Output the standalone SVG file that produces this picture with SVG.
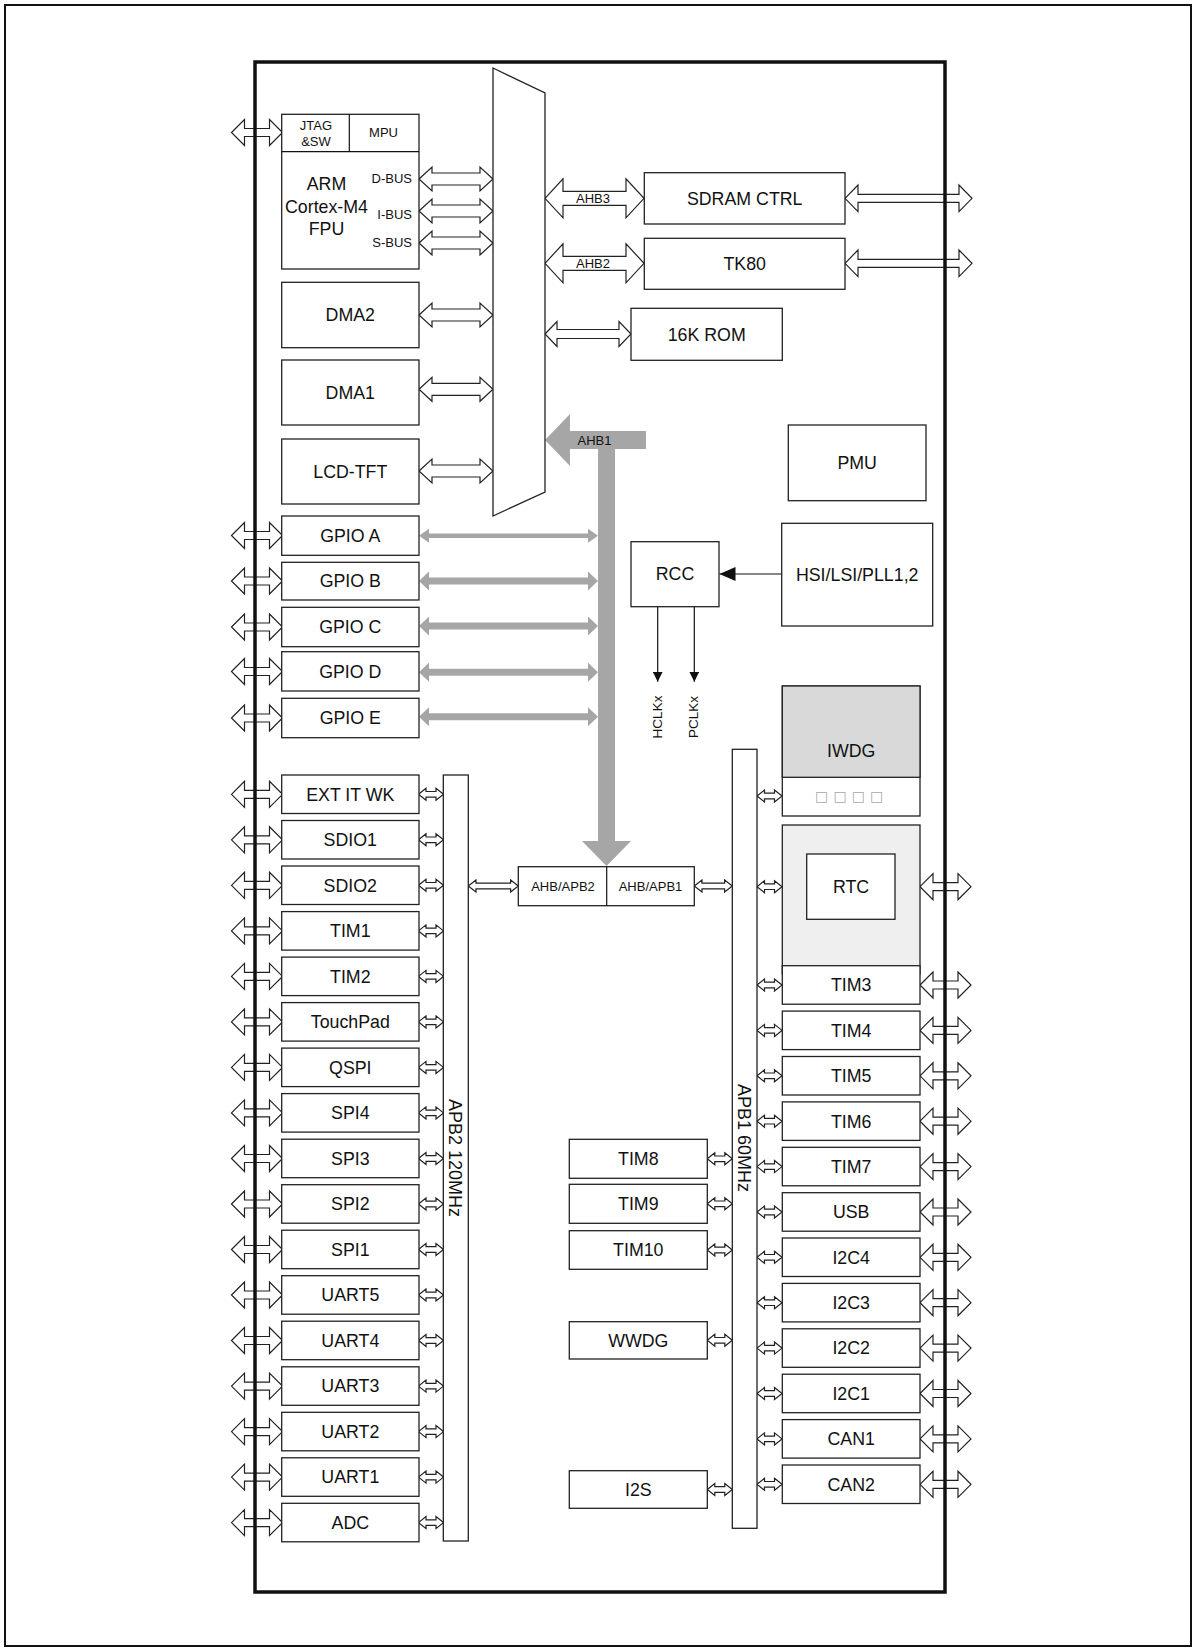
<svg xmlns="http://www.w3.org/2000/svg" xmlns:xlink="http://www.w3.org/1999/xlink" width="1196" height="1651" viewBox="0 0 1196 1651">
<style>
.box{fill:#fff;stroke:#222;stroke-width:1.3}
.lbl{font-family:"Liberation Sans",Arial,sans-serif;font-size:17.8px;text-anchor:middle;fill:#111}
.sml{font-size:13px}
.arr{fill:#fff;stroke:#222;stroke-width:1.2;stroke-linejoin:miter}
.gray{fill:#a6a6a6;stroke:none}
.thin{stroke:#111;stroke-width:1.2;fill:none}
</style>
<defs>
<path id="io" class="arr" d="M0,0 L13,-13 L13,-4 L38,-4 L38,-13 L51,0 L38,13 L38,4 L13,4 L13,13 Z"/>
<path id="sm" class="arr" d="M0,0 L7.5,-6 L7.5,-2.8 L17.5,-2.8 L17.5,-6 L25,0 L17.5,6 L17.5,2.8 L7.5,2.8 L7.5,6 Z"/>
<path id="bus" class="arr" d="M0,0 L13,-12 L13,-6 L61,-6 L61,-12 L74,0 L61,12 L61,6 L13,6 L13,12 Z"/>
<path id="gA" class="gray" d="M0,0 L10,-7 L10,-2.2 L169,-2.2 L169,-7 L179,0 L169,7 L169,2.2 L10,2.2 L10,7 Z"/>
<path id="gB" class="gray" d="M0,0 L10,-9.5 L10,-3.5 L169,-3.5 L169,-9.5 L179,0 L169,9.5 L169,3.5 L10,3.5 L10,9.5 Z"/>
<marker id="tri" viewBox="0 0 10 10" refX="10" refY="5" markerWidth="10" markerHeight="10" markerUnits="userSpaceOnUse" orient="auto">
<path d="M0,0 L10,5 L0,10 Z" fill="#111"/>
</marker>
<marker id="triL" viewBox="0 0 16 14" refX="16" refY="7" markerWidth="16" markerHeight="14" markerUnits="userSpaceOnUse" orient="auto">
<path d="M0,0 L16,7 L0,14 Z" fill="#111"/>
</marker>
</defs>
<rect x="5" y="5" width="1186" height="1641" fill="#fff" stroke="#111" stroke-width="2"/>

<g id="connectors">
<use href="#io" x="231.5" y="132.5"/>
<use href="#io" x="231.5" y="535.5"/>
<use href="#io" x="231.5" y="581"/>
<use href="#io" x="231.5" y="627"/>
<use href="#io" x="231.5" y="671.5"/>
<use href="#io" x="231.5" y="718"/>
<use href="#io" x="231.5" y="794.3"/>
<use href="#io" x="231.5" y="839.8"/>
<use href="#io" x="231.5" y="885.3"/>
<use href="#io" x="231.5" y="930.9"/>
<use href="#io" x="231.5" y="976.4"/>
<use href="#io" x="231.5" y="1021.9"/>
<use href="#io" x="231.5" y="1067.4"/>
<use href="#io" x="231.5" y="1112.9"/>
<use href="#io" x="231.5" y="1158.5"/>
<use href="#io" x="231.5" y="1204"/>
<use href="#io" x="231.5" y="1249.5"/>
<use href="#io" x="231.5" y="1295"/>
<use href="#io" x="231.5" y="1340.5"/>
<use href="#io" x="231.5" y="1386.1"/>
<use href="#io" x="231.5" y="1431.6"/>
<use href="#io" x="231.5" y="1477.1"/>
<use href="#io" x="231.5" y="1522.6"/>
<use href="#io" x="920" y="886.7"/>
<use href="#io" x="920" y="985"/>
<use href="#io" x="920" y="1030.4"/>
<use href="#io" x="920" y="1075.8"/>
<use href="#io" x="920" y="1121.2"/>
<use href="#io" x="920" y="1166.6"/>
<use href="#io" x="920" y="1212"/>
<use href="#io" x="920" y="1257.3"/>
<use href="#io" x="920" y="1302.7"/>
<use href="#io" x="920" y="1348.1"/>
<use href="#io" x="920" y="1393.5"/>
<use href="#io" x="920" y="1438.9"/>
<use href="#io" x="920" y="1484.3"/>
<path class="arr" d="M845,198.3 L858,185 L858,194.3 L959,194.3 L959,185 L972,198.3 L959,211.6 L959,202.3 L858,202.3 L858,211.6 Z"/>
<path class="arr" d="M845,263.3 L858,250 L858,259.3 L959,259.3 L959,250 L972,263.3 L959,276.6 L959,267.3 L858,267.3 L858,276.6 Z"/>
<use href="#bus" x="419" y="179"/>
<use href="#bus" x="419" y="211"/>
<use href="#bus" x="419" y="243"/>
<use href="#bus" x="419" y="315"/>
<use href="#bus" x="419" y="389.3"/>
<use href="#bus" x="419" y="471"/>
<path class="arr" d="M545,198.3 L563,178.8 L563,191.3 L626,191.3 L626,178.8 L644,198.3 L626,217.8 L626,205.3 L563,205.3 L563,217.8 Z"/>
<path class="arr" d="M545,263.3 L563,243.8 L563,256.3 L626,256.3 L626,243.8 L644,263.3 L626,282.8 L626,270.3 L563,270.3 L563,282.8 Z"/>
<path class="arr" d="M545,334 L557,321.5 L557,329.5 L619,329.5 L619,321.5 L631,334 L619,346.5 L619,338.5 L557,338.5 L557,346.5 Z"/>
<path class="gray" d="M545,440 L570,414 L570,431 L646,431 L646,449 L615,449 L615,841 L631,841 L606.5,866 L582,841 L598,841 L598,449 L570,449 L570,466 Z"/>
<use href="#gA" x="419" y="535.7"/>
<use href="#gB" x="419" y="581"/>
<use href="#gB" x="419" y="626"/>
<use href="#gB" x="419" y="672.3"/>
<use href="#gB" x="419" y="716.7"/>
<use href="#sm" x="418.5" y="794.3"/>
<use href="#sm" x="418.5" y="839.8"/>
<use href="#sm" x="418.5" y="885.3"/>
<use href="#sm" x="418.5" y="930.9"/>
<use href="#sm" x="418.5" y="976.4"/>
<use href="#sm" x="418.5" y="1021.9"/>
<use href="#sm" x="418.5" y="1067.4"/>
<use href="#sm" x="418.5" y="1112.9"/>
<use href="#sm" x="418.5" y="1158.5"/>
<use href="#sm" x="418.5" y="1204"/>
<use href="#sm" x="418.5" y="1249.5"/>
<use href="#sm" x="418.5" y="1295"/>
<use href="#sm" x="418.5" y="1340.5"/>
<use href="#sm" x="418.5" y="1386.1"/>
<use href="#sm" x="418.5" y="1431.6"/>
<use href="#sm" x="418.5" y="1477.1"/>
<use href="#sm" x="418.5" y="1522.6"/>
<path class="arr" d="M468.3,886 L476,880 L476,883.2 L510.6,883.2 L510.6,880 L518.3,886 L510.6,892 L510.6,888.8 L476,888.8 L476,892 Z"/>
<path class="arr" d="M694.3,886 L702,880 L702,883.2 L724.6,883.2 L724.6,880 L732.3,886 L724.6,892 L724.6,888.8 L702,888.8 L702,892 Z"/>
<use href="#sm" x="757" y="796"/>
<use href="#sm" x="757" y="886.7"/>
<use href="#sm" x="757" y="985"/>
<use href="#sm" x="757" y="1030.4"/>
<use href="#sm" x="757" y="1075.8"/>
<use href="#sm" x="757" y="1121.2"/>
<use href="#sm" x="757" y="1166.6"/>
<use href="#sm" x="757" y="1212"/>
<use href="#sm" x="757" y="1257.3"/>
<use href="#sm" x="757" y="1302.7"/>
<use href="#sm" x="757" y="1348.1"/>
<use href="#sm" x="757" y="1393.5"/>
<use href="#sm" x="757" y="1438.9"/>
<use href="#sm" x="757" y="1484.3"/>
<use href="#sm" x="707.3" y="1158.8"/>
<use href="#sm" x="707.3" y="1203.8"/>
<use href="#sm" x="707.3" y="1250"/>
<use href="#sm" x="707.3" y="1340.3"/>
<use href="#sm" x="707.3" y="1489.5"/>
<line class="thin" x1="781.7" y1="574" x2="719.5" y2="574" marker-end="url(#triL)"/>
<line class="thin" x1="657.7" y1="606.7" x2="657.7" y2="681.7" marker-end="url(#tri)"/>
<line class="thin" x1="694.3" y1="606.7" x2="694.3" y2="681.7" marker-end="url(#tri)"/>
</g>

<rect id="chip" x="255" y="62" width="690" height="1530" fill="none" stroke="#111" stroke-width="3.5"/>

<g id="bus-matrix">
<polygon class="box" points="493,68 545,93 545,492 493,516" stroke-width="1.5"/>
</g>

<g id="cpu">
<rect class="box" x="281.7" y="114.3" width="137.3" height="154.7"/>
<line class="thin" x1="281.7" y1="151.7" x2="419" y2="151.7"/>
<line class="thin" x1="349.3" y1="114.3" x2="349.3" y2="151.7"/>
<text class="lbl sml" x="316" y="130">JTAG</text>
<text class="lbl sml" x="316" y="145.5">&amp;SW</text>
<text class="lbl sml" x="383.5" y="136.5">MPU</text>
<text class="lbl" x="326.5" y="190">ARM</text>
<text class="lbl" x="326.5" y="213">Cortex-M4</text>
<text class="lbl" x="326.5" y="234.5">FPU</text>
<text class="lbl sml" x="412" y="182.5" style="text-anchor:end">D-BUS</text>
<text class="lbl sml" x="412" y="218.5" style="text-anchor:end">I-BUS</text>
<text class="lbl sml" x="412" y="247" style="text-anchor:end">S-BUS</text>
</g>
<g id="dma2"><rect class="box" x="281.7" y="282.3" width="137.3" height="65.4"/><text class="lbl" x="350.3" y="321.3">DMA2</text></g>
<g id="dma1"><rect class="box" x="281.7" y="360" width="137.3" height="65"/><text class="lbl" x="350.3" y="398.8">DMA1</text></g>
<g id="lcd-tft"><rect class="box" x="281.7" y="439" width="137.3" height="65"/><text class="lbl" x="350.3" y="477.8">LCD-TFT</text></g>

<g id="sdram"><rect class="box" x="644.3" y="172.7" width="200.7" height="51.3"/><text class="lbl" x="744.7" y="204.6">SDRAM CTRL</text></g>
<g id="tk80"><rect class="box" x="644.3" y="238.3" width="200.7" height="51"/><text class="lbl" x="744.7" y="270">TK80</text></g>
<g id="rom"><rect class="box" x="631" y="308.3" width="151.3" height="52"/><text class="lbl" x="706.7" y="340.6">16K ROM</text></g>
<text class="lbl sml" x="593" y="203">AHB3</text>
<text class="lbl sml" x="593" y="268">AHB2</text>
<text class="lbl sml" x="594.5" y="444.5">AHB1</text>

<g id="pmu"><rect class="box" x="788.3" y="425" width="137.7" height="75.7"/><text class="lbl" x="857.2" y="469.2">PMU</text></g>
<g id="hsi"><rect class="box" x="781.7" y="523.3" width="151" height="102.7"/><text class="lbl" x="857.2" y="581">HSI/LSI/PLL1,2</text></g>
<g id="rcc"><rect class="box" x="631" y="541.7" width="88" height="65"/><text class="lbl" x="675" y="580.3">RCC</text></g>
<text class="lbl sml" x="0" y="0" transform="translate(661.6 717) rotate(-90)" style="font-size:13.5px">HCLKx</text>
<text class="lbl sml" x="0" y="0" transform="translate(698.2 717) rotate(-90)" style="font-size:13.5px">PCLKx</text>

<g id="gpio-a"><rect class="box" x="281.7" y="516" width="137.3" height="39.3"/><text class="lbl" x="350.3" y="541.9">GPIO A</text></g>
<g id="gpio-b"><rect class="box" x="281.7" y="562.3" width="137.3" height="37.7"/><text class="lbl" x="350.3" y="587.4">GPIO B</text></g>
<g id="gpio-c"><rect class="box" x="281.7" y="607.3" width="137.3" height="39.4"/><text class="lbl" x="350.3" y="633.3">GPIO C</text></g>
<g id="gpio-d"><rect class="box" x="281.7" y="651.7" width="137.3" height="39.3"/><text class="lbl" x="350.3" y="677.7">GPIO D</text></g>
<g id="gpio-e"><rect class="box" x="281.7" y="698.3" width="137.3" height="39.4"/><text class="lbl" x="350.3" y="724.3">GPIO E</text></g>

<g id="iwdg">
<rect class="box" x="782.3" y="686" width="137.7" height="130"/>
<rect x="782.3" y="686" width="137.7" height="91.3" fill="#d9d9d9" stroke="#222" stroke-width="1.3"/>
<text class="lbl" x="851.2" y="757">IWDG</text>
<text x="821.7 840 858.3 876.5" y="801" style="font-family:'DejaVu Sans',sans-serif;font-size:14px;fill:#a8a8a8;text-anchor:middle">□□□□</text>
</g>
<g id="rtc">
<rect x="782.3" y="825" width="137.7" height="149" fill="#efefef" stroke="#222" stroke-width="1.3"/>
<rect class="box" x="806.7" y="854" width="88.3" height="65.3"/>
<text class="lbl" x="851" y="893">RTC</text>
</g>

<g id="bridge">
<rect class="box" x="518.3" y="866.7" width="176" height="39"/>
<line class="thin" x1="606.7" y1="866.7" x2="606.7" y2="905.7"/>
<text class="lbl sml" x="563" y="890.6">AHB/APB2</text>
<text class="lbl sml" x="650.5" y="890.6">AHB/APB1</text>
</g>

<g id="apb2">
<rect class="box" x="443.3" y="775" width="25" height="766"/>
<text class="lbl" x="0" y="0" transform="translate(449.4 1158) rotate(90)" style="font-size:18px">APB2 120MHz</text>
</g>
<g id="apb1">
<rect class="box" x="732.3" y="749.3" width="24.7" height="779"/>
<text class="lbl" x="0" y="0" transform="translate(738.4 1138) rotate(90)" style="font-size:18px">APB1 60MHz</text>
</g>

<g id="ext-it-wk"><rect class="box" x="281.7" y="775" width="137.3" height="38.5"/><text class="lbl" x="350.3" y="800.6">EXT IT WK</text></g>
<g id="sdio1"><rect class="box" x="281.7" y="820.5" width="137.3" height="38.5"/><text class="lbl" x="350.3" y="846.1">SDIO1</text></g>
<g id="sdio2"><rect class="box" x="281.7" y="866" width="137.3" height="38.5"/><text class="lbl" x="350.3" y="891.6">SDIO2</text></g>
<g id="tim1"><rect class="box" x="281.7" y="911.6" width="137.3" height="38.5"/><text class="lbl" x="350.3" y="937.2">TIM1</text></g>
<g id="tim2"><rect class="box" x="281.7" y="957.1" width="137.3" height="38.5"/><text class="lbl" x="350.3" y="982.7">TIM2</text></g>
<g id="touchpad"><rect class="box" x="281.7" y="1002.6" width="137.3" height="38.5"/><text class="lbl" x="350.3" y="1028.2">TouchPad</text></g>
<g id="qspi"><rect class="box" x="281.7" y="1048.1" width="137.3" height="38.5"/><text class="lbl" x="350.3" y="1073.7">QSPI</text></g>
<g id="spi4"><rect class="box" x="281.7" y="1093.6" width="137.3" height="38.5"/><text class="lbl" x="350.3" y="1119.2">SPI4</text></g>
<g id="spi3"><rect class="box" x="281.7" y="1139.2" width="137.3" height="38.5"/><text class="lbl" x="350.3" y="1164.8">SPI3</text></g>
<g id="spi2"><rect class="box" x="281.7" y="1184.7" width="137.3" height="38.5"/><text class="lbl" x="350.3" y="1210.3">SPI2</text></g>
<g id="spi1"><rect class="box" x="281.7" y="1230.2" width="137.3" height="38.5"/><text class="lbl" x="350.3" y="1255.8">SPI1</text></g>
<g id="uart5"><rect class="box" x="281.7" y="1275.7" width="137.3" height="38.5"/><text class="lbl" x="350.3" y="1301.3">UART5</text></g>
<g id="uart4"><rect class="box" x="281.7" y="1321.2" width="137.3" height="38.5"/><text class="lbl" x="350.3" y="1346.8">UART4</text></g>
<g id="uart3"><rect class="box" x="281.7" y="1366.8" width="137.3" height="38.5"/><text class="lbl" x="350.3" y="1392.4">UART3</text></g>
<g id="uart2"><rect class="box" x="281.7" y="1412.3" width="137.3" height="38.5"/><text class="lbl" x="350.3" y="1437.9">UART2</text></g>
<g id="uart1"><rect class="box" x="281.7" y="1457.8" width="137.3" height="38.5"/><text class="lbl" x="350.3" y="1483.4">UART1</text></g>
<g id="adc"><rect class="box" x="281.7" y="1503.3" width="137.3" height="38.5"/><text class="lbl" x="350.3" y="1528.9">ADC</text></g>

<g id="tim8"><rect class="box" x="569.3" y="1139.3" width="138" height="39"/><text class="lbl" x="638.3" y="1165.1">TIM8</text></g>
<g id="tim9"><rect class="box" x="569.3" y="1184.3" width="138" height="39"/><text class="lbl" x="638.3" y="1210.1">TIM9</text></g>
<g id="tim10"><rect class="box" x="569.3" y="1230.7" width="138" height="38.6"/><text class="lbl" x="638.3" y="1256.3">TIM10</text></g>
<g id="wwdg"><rect class="box" x="569.3" y="1321.7" width="138" height="37.3"/><text class="lbl" x="638.3" y="1346.6">WWDG</text></g>
<g id="i2s"><rect class="box" x="569.3" y="1470.7" width="138" height="37.6"/><text class="lbl" x="638.3" y="1495.8">I2S</text></g>

<g id="tim3"><rect class="box" x="782.3" y="965.7" width="137.7" height="38.5"/><text class="lbl" x="851.2" y="991.3">TIM3</text></g>
<g id="tim4"><rect class="box" x="782.3" y="1011.1" width="137.7" height="38.5"/><text class="lbl" x="851.2" y="1036.7">TIM4</text></g>
<g id="tim5"><rect class="box" x="782.3" y="1056.5" width="137.7" height="38.5"/><text class="lbl" x="851.2" y="1082.1">TIM5</text></g>
<g id="tim6"><rect class="box" x="782.3" y="1101.9" width="137.7" height="38.5"/><text class="lbl" x="851.2" y="1127.5">TIM6</text></g>
<g id="tim7"><rect class="box" x="782.3" y="1147.3" width="137.7" height="38.5"/><text class="lbl" x="851.2" y="1172.9">TIM7</text></g>
<g id="usb"><rect class="box" x="782.3" y="1192.7" width="137.7" height="38.5"/><text class="lbl" x="851.2" y="1218.3">USB</text></g>
<g id="i2c4"><rect class="box" x="782.3" y="1238" width="137.7" height="38.5"/><text class="lbl" x="851.2" y="1263.6">I2C4</text></g>
<g id="i2c3"><rect class="box" x="782.3" y="1283.4" width="137.7" height="38.5"/><text class="lbl" x="851.2" y="1309">I2C3</text></g>
<g id="i2c2"><rect class="box" x="782.3" y="1328.8" width="137.7" height="38.5"/><text class="lbl" x="851.2" y="1354.4">I2C2</text></g>
<g id="i2c1"><rect class="box" x="782.3" y="1374.2" width="137.7" height="38.5"/><text class="lbl" x="851.2" y="1399.8">I2C1</text></g>
<g id="can1"><rect class="box" x="782.3" y="1419.6" width="137.7" height="38.5"/><text class="lbl" x="851.2" y="1445.2">CAN1</text></g>
<g id="can2"><rect class="box" x="782.3" y="1465" width="137.7" height="38.5"/><text class="lbl" x="851.2" y="1490.6">CAN2</text></g>
</svg>
